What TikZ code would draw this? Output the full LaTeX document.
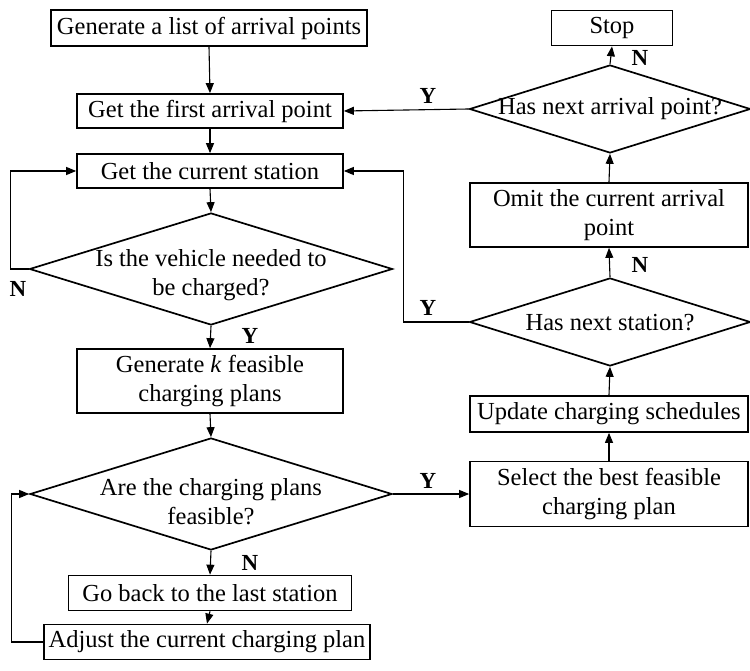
\documentclass[tikz,border=0pt]{standalone}
\usepackage{fontspec}
\setmainfont{Liberation Serif}
\usetikzlibrary{shapes.geometric,arrows.meta}
\tikzset{
  box/.style={draw, line width=1.7pt, inner sep=0pt, align=center, font=\fontsize{24.5}{29}\selectfont},
  dia/.style={draw, diamond, line width=1.7pt, inner sep=0pt},
  dtext/.style={align=center, inner sep=0pt, font=\fontsize{24.5}{29}\selectfont},
  conn/.style={line width=1.1pt, -{Triangle[length=10pt,width=8pt]}},
  yn/.style={font=\bfseries\fontsize{23}{26}\selectfont, inner sep=0pt}
}
\begin{document}
\begin{tikzpicture}[x=1pt,y=-1pt]
\useasboundingbox (0,0) rectangle (750,671);
% left column
\node[box, minimum width=316pt, minimum height=36pt] (b1) at (209,28) {Generate a list of arrival points};
\node[box, minimum width=266pt, minimum height=34pt] (b2) at (210,111) {Get the first arrival point};
\node[box, minimum width=266pt, minimum height=34pt] (b3) at (210,171) {Get the current station};
\node[dia, minimum width=363pt, minimum height=112pt] (d1) at (211,269) {};
\node[dtext] (d1t) at (211,275) {Is the vehicle needed to\\be charged?};
\node[box, minimum width=266pt, minimum height=64pt] (b4) at (210,381) {Generate \textit{k} feasible\\charging plans};
\node[dia, minimum width=362pt, minimum height=112pt] (d2) at (211,494) {};
\node[dtext] (d2t) at (211,502) {Are the charging plans\\feasible?};
\node[box, minimum width=283pt, minimum height=35pt] (b5) at (210,593) {Go back to the last station};
\node[box, minimum width=326pt, minimum height=35pt] (b6) at (207,642) {Adjust the current charging plan};
% right column
\node[box, minimum width=121pt, minimum height=35pt] (stop) at (612,28) {Stop};
\node[dia, minimum width=281pt, minimum height=88pt] (d3) at (610,109) {};
\node[dtext] (d3t) at (610,109) {Has next arrival point?};
\node[box, minimum width=278pt, minimum height=64pt] (omit) at (609,215) {Omit the current arrival\\point};
\node[dia, minimum width=281pt, minimum height=88pt] (d4) at (610,322) {};
\node[dtext] (d4t) at (610,323) {Has next station?};
\node[box, minimum width=278pt, minimum height=36pt] (upd) at (609,414) {Update charging schedules};
\node[box, minimum width=278pt, minimum height=65pt] (sel) at (609,494) {Select the best feasible\\charging plan};
% connectors
\draw[conn] (b1.south) -- (b2.north);
\draw[conn] (b2.south) -- (b3.north);
\draw[conn] (b3.south) -- (d1.north);
\draw[conn] (d1.south) -- (b4.north);
\draw[conn] (d1.west) -- ++(-18,0) |- (b3.west);
\draw[conn] (b4.south) -- (d2.north);
\draw[conn] (d2.south) -- (b5.north);
\draw[conn] (b5.south) -- (b6.north);
\draw[conn] (b6.west) -- ++(-32,0) |- (d2.west);
\draw[conn] (d2.east) -- (sel.west);
\draw[conn] (sel.north) -- (upd.south);
\draw[conn] (upd.north) -- (d4.south);
\draw[conn] (d4.north) -- (omit.south);
\draw[conn] (d4.west) -- ++(-65,0) |- (b3.east);
\draw[conn] (omit.north) -- (d3.south);
\draw[conn] (d3.north) -- (stop.south);
\draw[conn] (d3.west) -- (b2.east);
% labels
\node[yn] (n1) at (18,289) {N};
\node[yn] (y1) at (250,336) {Y};
\node[yn] (n2) at (250,563) {N};
\node[yn] (y2) at (428,481) {Y};
\node[yn] (y3) at (428,308) {Y};
\node[yn] (n3) at (640,265) {N};
\node[yn] (y4) at (428,96) {Y};
\node[yn] (n4) at (640,58) {N};
\end{tikzpicture}
\end{document}
